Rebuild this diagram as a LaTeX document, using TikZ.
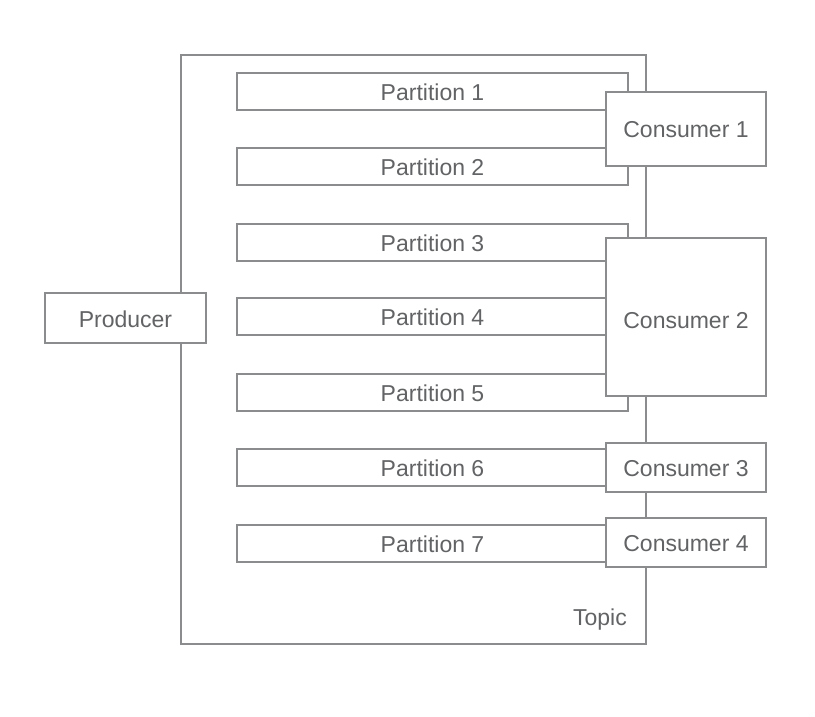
\documentclass[tikz,border=0pt]{standalone}
\usepackage{fontspec}
\setmainfont{Liberation Sans}
\begin{document}
\begin{tikzpicture}[x=1pt,y=-1pt,
  line/.style={draw=linegray,line width=1.8pt},
  box/.style={line,fill=white},
  lbl/.style={text=textgray,font=\fontsize{23}{26}\selectfont,inner sep=0pt}]
\definecolor{linegray}{HTML}{8A8C8E}
\definecolor{textgray}{HTML}{626365}
\useasboundingbox (0,0) rectangle (815,717);
% topic
\draw[line] (181,55) rectangle (646,644);
\node[lbl,anchor=base east] (topic) at (627,625) {Topic};
% partitions
\foreach \i/\t in {1/73,2/148,3/224,4/298,5/374,6/449,7/525}{
  \draw[box] (237,\t) rectangle (628,\t+37);
  \node[lbl] (p\i) at (432.5,\t+19.5) {Partition \i};
}
% producer
\draw[box] (45,293) rectangle (206,343);
\node[lbl] (producer) at (125.5,319) {Producer};
% consumers
\draw[box] (606,92) rectangle (766,166);
\node[lbl] (c1) at (686,130) {Consumer 1};
\draw[box] (606,238) rectangle (766,396);
\node[lbl] (c2) at (686,321) {Consumer 2};
\draw[box] (606,443) rectangle (766,492);
\node[lbl] (c3) at (686,468.5) {Consumer 3};
\draw[box] (606,518) rectangle (766,567);
\node[lbl] (c4) at (686,543.5) {Consumer 4};
\end{tikzpicture}
\end{document}
